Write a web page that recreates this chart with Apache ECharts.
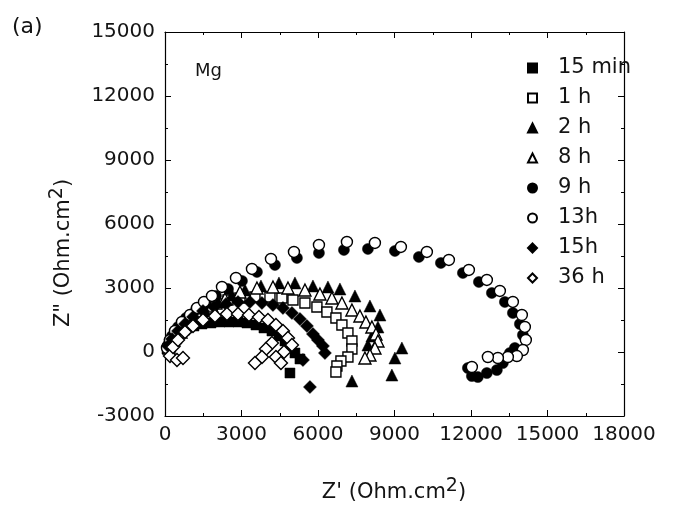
<!DOCTYPE html>
<html>
<head>
<meta charset="utf-8">
<script src="https://cdn.jsdelivr.net/npm/echarts@6/dist/echarts.min.js"></script>
<style>
  html, body { margin: 0; padding: 0; background: #fff; }
  #chart { width: 691px; height: 506px; }
</style>
</head>
<body>
<div id="chart"></div>
<script>
// Nyquist data, [Z', Z''] in Ohm.cm2
var seriesNames = ['15 min', '1 h', '2 h', '8 h', '9 h', '13h', '15h', '36 h'];

var z15min = [[78,141],[157,375],[274,610],[431,844],[627,985],[862,1126],[1137,1219],[1450,1313],
  [1803,1360],[2156,1407],[2509,1407],[2862,1407],[3214,1360],[3567,1266],[3881,1126],[4194,985],
  [4469,750],[4704,516],[4900,234],[5096,-47],[5292,-328],[4900,-985]];

var z1h = [[118,141],[274,422],[470,750],[706,1079],[980,1407],[1294,1735],[1646,2017],[2038,2251],
  [2470,2439],[2940,2533],[3528,2580],[4116,2580],[4586,2533],[5018,2439],[5488,2298],[5958,2111],
  [6350,1876],[6703,1595],[6938,1266],[7174,891],[7330,516],[7330,141],[7174,-234],[6899,-422],
  [6742,-657],[6703,-938]];

var z2h = [[196,281],[431,657],[745,1079],[1137,1501],[1568,1923],[2078,2345],[2626,2673],[3136,2908],
  [3763,3095],[4469,3236],[5096,3236],[5802,3095],[6390,3049],[6860,2955],[7448,2626],[8036,2157],
  [8428,1735],[8350,1173],[8114,750],[7958,328],[9290,188],[9016,-281],[8898,-1079],[7330,-1360]];

var z8h = [[157,234],[353,563],[627,938],[980,1360],[1372,1782],[1842,2157],[2352,2486],[2940,2814],
  [3606,3002],[4234,3049],[4822,3002],[5488,2908],[6076,2720],[6546,2533],[6938,2298],[7330,1970],
  [7644,1688],[7879,1407],[8114,1173],[8271,844],[8350,516],[8232,188],[8036,-141],[7840,-281]];

var z9h = [[118,328],[274,750],[510,1173],[823,1595],[1215,1970],[1607,2299],[1999,2626],[2470,2955],
  [3018,3330],[3606,3752],[4312,4081],[5174,4409],[6037,4643],[7017,4784],[7958,4831],[9016,4737],
  [9957,4456],[10819,4174],[11682,3705],[12309,3283],[12818,2767],[13328,2345],[13642,1829],
  [13916,1313],[14034,797],[13720,188],[13524,-47],[13250,-516],[13014,-844],[12622,-985],
  [12270,-1173],[12034,-1126],[11878,-750]];

var z13h = [[78,188],[196,563],[392,985],[666,1407],[980,1735],[1254,2064],[1529,2345],[1842,2626],
  [2234,3049],[2783,3471],[3410,3893],[4155,4362],[5057,4690],[6037,5018],[7134,5159],[8232,5112],
  [9251,4925],[10270,4690],[11133,4315],[11917,3846],[12622,3377],[13132,2861],[13642,2345],
  [13994,1735],[14112,1173],[14151,563],[14034,94],[13798,-188],[13446,-234],[13054,-281],
  [12662,-234],[12034,-703]];

var z15h = [[118,281],[274,610],[510,985],[784,1313],[1098,1642],[1490,1923],[1921,2111],[2391,2251],
  [2862,2345],[3332,2345],[3802,2298],[4234,2204],[4626,2064],[4978,1829],[5292,1548],[5566,1219],
  [5802,844],[5998,563],[6194,281],[6272,-47],[5410,-375],[5684,-1642]];

var z36h = [[196,-188],[470,-375],[706,-281],[314,234],[510,563],[784,938],[1098,1219],[1490,1501],
  [1960,1688],[2430,1782],[2862,1782],[3293,1735],[3685,1642],[4038,1501],[4351,1266],[4626,985],
  [4822,657],[4978,328],[4665,0],[4351,-234],[4547,-516],[4194,422],[3959,141],[3802,-234],[3528,-516]];

var xTicks = { min: 0, max: 18000, step: 3000 };
var yTicks = { min: -3000, max: 15000, step: 3000 };

var ink = '#141414';
var font = 'DejaVu Sans';

function filled(sym, size) {
  return { symbol: sym, symbolSize: size, itemStyle: { color: '#000', borderColor: '#000', borderWidth: 0.5, opacity: 1 } };
}
function hollow(sym, size) {
  return { symbol: sym, symbolSize: size, itemStyle: { color: '#fff', borderColor: '#000', borderWidth: 1.4, opacity: 1 } };
}

var looks = [filled('rect', 10), hollow('rect', 10), filled('triangle', 12), hollow('triangle', 12),
             filled('circle', 11), hollow('circle', 11), filled('diamond', 13), hollow('diamond', 13)];
var datasets = [z15min, z1h, z2h, z8h, z9h, z13h, z15h, z36h];

var series = [];
for (var i = 0; i < datasets.length; i++) {
  series.push({
    name: seriesNames[i],
    type: 'scatter',
    data: datasets[i],
    symbol: looks[i].symbol,
    symbolSize: looks[i].symbolSize,
    itemStyle: looks[i].itemStyle,
    emphasis: { disabled: true },
    z: 2 + i
  });
}

var axisCommon = {
  type: 'value',
  axisLine: { show: true, onZero: false, lineStyle: { color: '#000', width: 1.2 } },
  axisTick: { show: true, inside: true, length: 6, lineStyle: { color: '#000' } },
  minorTick: { show: true, splitNumber: 2, length: 3, lineStyle: { color: '#000' } },
  splitLine: { show: false }
};

function plain(v) { return String(v); }

function xAxis(pos, labels) {
  return echarts.util.merge({
    position: pos, min: xTicks.min, max: xTicks.max, interval: xTicks.step,
    axisLabel: { show: labels, formatter: plain, fontFamily: font, fontSize: 20, color: ink, margin: 9 }
  }, axisCommon);
}
function yAxis(pos, labels) {
  return echarts.util.merge({
    position: pos, min: yTicks.min, max: yTicks.max, interval: yTicks.step,
    axisLabel: { show: labels, formatter: plain, fontFamily: font, fontSize: 20, color: ink, margin: 10 }
  }, axisCommon);
}

var chart = echarts.init(document.getElementById('chart'), null, { renderer: 'canvas' });

chart.setOption({
  animation: false,
  backgroundColor: '#fff',
  grid: { left: 165, top: 32, right: 67, bottom: 90, containLabel: false },
  xAxis: [xAxis('bottom', true), xAxis('top', false)],
  yAxis: [yAxis('left', true), yAxis('right', false)],
  legend: {
    orient: 'vertical',
    left: 522,
    top: 52,
    itemWidth: 9,
    itemHeight: 9,
    itemGap: 8,
    selectedMode: false,
    data: seriesNames,
    textStyle: { fontFamily: font, fontSize: 21, lineHeight: 22, color: ink, padding: [0, 0, 0, 16] }
  },
  graphic: [
    { type: 'text', left: 12, top: 16, style: { text: '(a)', fontFamily: font, fontSize: 22, fill: ink } },
    { type: 'text', left: 195, top: 62, style: { text: 'Mg', fontFamily: font, fontSize: 18, fill: ink } },
    {
      type: 'text', x: 394, y: 493,
      style: {
        text: "Z' (Ohm.cm{sup|2})", fontFamily: font, fontSize: 21, fill: ink,
        align: 'center', verticalAlign: 'middle',
        rich: { sup: { fontFamily: font, fontSize: 19, fill: ink, padding: [0, 0, 13, 0] } }
      }
    },
    {
      type: 'text', x: 64, y: 253, rotation: Math.PI / 2,
      style: {
        text: 'Z" (Ohm.cm{sup|2})', fontFamily: font, fontSize: 21, fill: ink,
        align: 'center', verticalAlign: 'middle',
        rich: { sup: { fontFamily: font, fontSize: 19, fill: ink, padding: [0, 0, 13, 0] } }
      }
    }
  ],
  series: series
});
</script>
</body>
</html>
